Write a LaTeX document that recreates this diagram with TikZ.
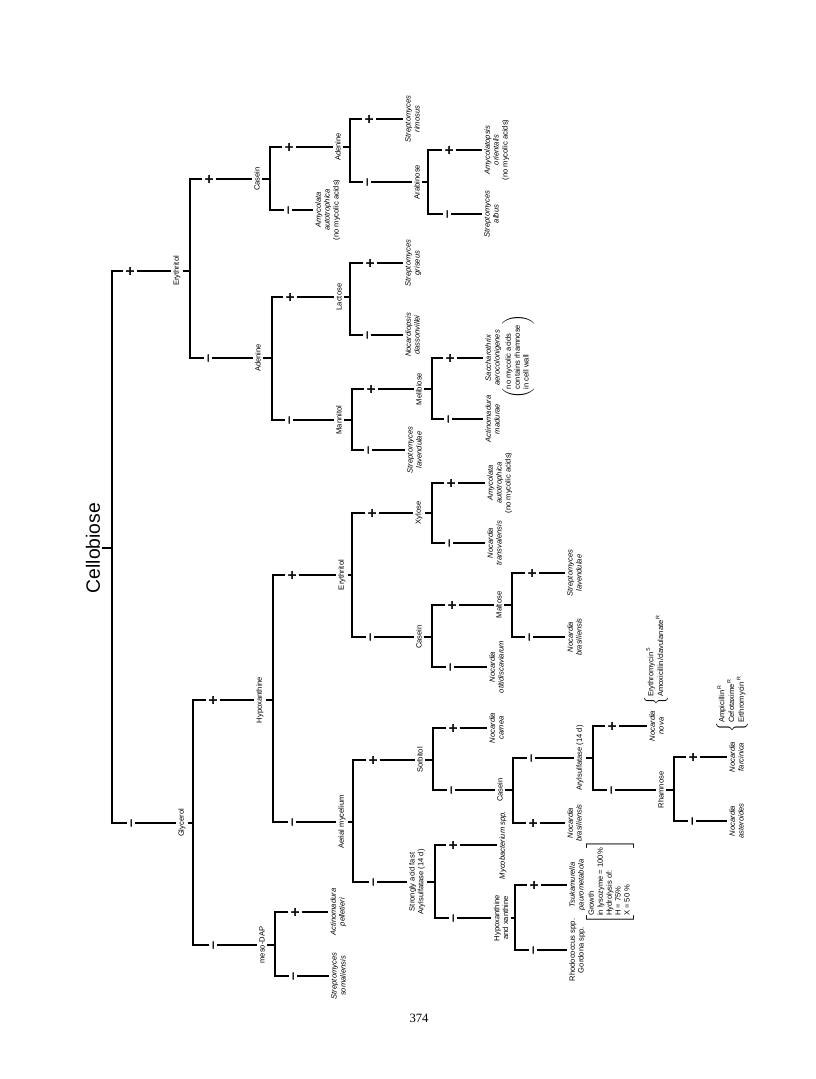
\documentclass[tikz,border=0pt]{standalone}
\usepackage{fontspec}
\setmainfont{Liberation Sans}
\newfontfamily\numfont{Liberation Serif}
\newfontfamily\signfont[FakeBold=3]{Liberation Sans}
\usepackage{tikz}

\tikzset{
  tree/.style={line width=1.8pt},
  lbl/.style={rotate=90, inner sep=1.5pt, align=center, font=\fontsize{5.7}{6.7}\selectfont},
  leaf/.style={lbl, anchor=north, font=\fontsize{5.7}{6.7}\selectfont\itshape},
  sgnp/.style={rotate=90, inner sep=1pt, text height=7.4pt, text depth=0pt, font=\signfont\fontsize{11}{11}\selectfont},
  sgnm/.style={rotate=90, inner sep=0.3pt, text height=4.9pt, text depth=0pt, font=\signfont\fontsize{9}{9}\selectfont},
}

\begin{document}
\begin{tikzpicture}[x=0.75pt, y=-0.75pt]
\useasboundingbox (0,0) rectangle (816,1079);

% test names at the forks
\node[lbl, font=\fontsize{14.5}{16}\selectfont] (cello) at (93,548) {Cellobiose};
\node[lbl] (ery1) at (177,271) {Erythritol};
\node[lbl] (cas1) at (257,179) {Casein};
\node[lbl] (ade1) at (338,147) {Adenine};
\node[lbl] (arab) at (417,182) {Arabinose};
\node[lbl] (ade2) at (258,358) {Adenine};
\node[lbl] (lac) at (339,297) {Lactose};
\node[lbl] (mann) at (339,420) {Mannitol};
\node[lbl] (meli) at (419,389) {Melibiose};
\node[lbl] (gly) at (182,823) {Glycerol};
\node[lbl] (hypo) at (260,700) {Hypoxanthine};
\node[lbl] (ery3) at (342,575) {Erythritol};
\node[lbl] (xyl) at (419,513) {Xylose};
\node[lbl] (cas3) at (419,637) {Casein};
\node[lbl] (malt) at (499,605) {Maltose};
\node[lbl] (aer) at (342,822) {Aerial mycelium};
\node[lbl] (sorb) at (420,760) {Sorbitol};
\node[lbl] (cas4) at (500,790) {Casein};
\node[lbl] (aryl) at (580,758) {Arylsulfatase (14 d)};
\node[lbl] (rham) at (661,790) {Rhamnose};
\node[lbl] (saf) at (417,882) {Strongly acid fast\\Arylsulfatase (14 d)};
\node[lbl] (hxx) at (501,918) {Hypoxanthine\\and xanthine};
\node[lbl] (dap) at (262,945) {meso-DAP};

% organisms
\node[leaf] (amyA) at (313,210) {Amycolata\\autotrophica\\{\upshape(no mycolic acids)}};
\node[leaf] (srim) at (403,119) {Streptomyces\\rimosus};
\node[leaf] (aori) at (482,150) {Amycolatopsis\\orientalis\\{\upshape(no mycolic acids)}};
\node[leaf] (salb) at (482,214) {Streptomyces\\albus};
\node[leaf] (sgri) at (403,263) {Streptomyces\\griseus};
\node[leaf] (ndas) at (403,335) {Nocardiopsis\\dassonvillei};
\node[leaf] (sacc) at (483,358) {Saccharothrix\\aerocolonigenes};
\node[leaf] (amad) at (483,419) {Actinomadura\\madurae};
\node[leaf] (slav1) at (405,450) {Streptomyces\\lavendulae};
\node[leaf] (amyB) at (485,483) {Amycolata\\autotrophica\\{\upshape(no mycolic acids)}};
\node[leaf] (ntra) at (485,543) {Nocardia\\transvalensis};
\node[leaf] (slav2) at (565,573) {Streptomyces\\lavendulae};
\node[leaf] (nbra1) at (565,637) {Nocardia\\brasiliensis};
\node[leaf] (noti) at (487,667) {Nocardia\\otitidiscaviarum};
\node[leaf] (ncar) at (487,728) {Nocardia\\carnea};
\node[leaf] (nnov) at (647,726) {Nocardia\\nova};
\node[leaf] (nfar) at (727,757) {Nocardia\\farcinica};
\node[leaf] (nast) at (727,821) {Nocardia\\asteroides};
\node[leaf] (nbra2) at (565,823) {Nocardia\\brasiliensis};
\node[leaf] (myco) at (497,845) {Mycobacterium spp.};
\node[leaf] (tsuk) at (567,885) {Tsukamurella\\paurometabola};
\node[leaf, font=\fontsize{5.7}{6.7}\selectfont] (rhod) at (567,950) {Rhodococcus spp.\\Gordona spp.};
\node[leaf] (apel) at (328,912) {Actinomadura\\pelletieri};
\node[leaf] (ssom) at (329,976) {Streptomyces\\somaliensis};

% notes
\node[lbl] (saccnote) at (518,357) {$\left(\begin{tabular}{@{}l@{}}no mycolic acids\\contains rhamnose\\in cell wall\end{tabular}\right)$};
\node[lbl] (tsuknote) at (610,882) {$\left[\begin{tabular}{@{}l@{}}Growth\\in lysozyme = 100\%\\Hydrolysis of:\\H = 75\%\\X = 50 \%\end{tabular}\right]$};
\node[lbl, anchor=west] (nnovnote) at (656,708) {$\left\{\begin{tabular}{@{}l@{}}Erythromycin\,\textsuperscript{S}\\Amoxicillin/clavulanate\,\textsuperscript{R}\end{tabular}\right.$};
\node[lbl, anchor=west] (nfarnote) at (732,735) {$\left\{\begin{tabular}{@{}l@{}}Ampicillin\,\textsuperscript{R}\\Cefotaxime\,\textsuperscript{R}\\Erthromycin\,\textsuperscript{R}\end{tabular}\right.$};

% signs
\node[sgnp] (cellop) at (130,271) {+};  \node[sgnm] (cellom) at (131,823) {–};
\node[sgnp] (ery1p) at (209,179) {+};   \node[sgnm] (ery1m) at (208,358) {–};
\node[sgnp] (cas1p) at (289,147) {+};   \node[sgnm] (cas1m) at (288,210) {–};
\node[sgnp] (ade1p) at (369,119) {+};   \node[sgnm] (ade1m) at (367,182) {–};
\node[sgnp] (arabp) at (449,150) {+};   \node[sgnm] (arabm) at (447,214) {–};
\node[sgnp] (ade2p) at (290,297) {+};   \node[sgnm] (ade2m) at (289,420) {–};
\node[sgnp] (lacp) at (370,263) {+};    \node[sgnm] (lacm) at (367,335) {–};
\node[sgnp] (mannp) at (371,389) {+};   \node[sgnm] (mannm) at (368,450) {–};
\node[sgnp] (melip) at (450,358) {+};   \node[sgnm] (melim) at (448,419) {–};
\node[sgnp] (glyp) at (213,700) {+};    \node[sgnm] (glym) at (213,945) {–};
\node[sgnp] (hypop) at (292,575) {+};   \node[sgnm] (hypom) at (292,822) {–};
\node[sgnp] (ery3p) at (372,513) {+};   \node[sgnm] (ery3m) at (370,637) {–};
\node[sgnp] (xylp) at (451,483) {+};    \node[sgnm] (xylm) at (449,543) {–};
\node[sgnp] (cas3p) at (452,605) {+};   \node[sgnm] (cas3m) at (450,667) {–};
\node[sgnp] (maltp) at (532,573) {+};   \node[sgnm] (maltm) at (529,637) {–};
\node[sgnp] (aerp) at (373,760) {+};    \node[sgnm] (aerm) at (373,882) {–};
\node[sgnp] (sorbp) at (453,728) {+};   \node[sgnm] (sorbm) at (451,790) {–};
\node[sgnm] (cas4m) at (531,758) {–};   \node[sgnp] (cas4p) at (533,823) {+};
\node[sgnp] (arylp) at (612,726) {+};   \node[sgnm] (arylm) at (611,790) {–};
\node[sgnp] (rhamp) at (693,757) {+};   \node[sgnm] (rhamm) at (692,821) {–};
\node[sgnp] (safp) at (453,845) {+};    \node[sgnm] (safm) at (453,918) {–};
\node[sgnp] (hxxp) at (534,885) {+};    \node[sgnm] (hxxm) at (533,950) {–};
\node[sgnp] (dapp) at (295,912) {+};    \node[sgnm] (dapm) at (293,976) {–};

% bars
\coordinate (cellobar) at (112,548);  \coordinate (ery1bar) at (190,271);
\coordinate (cas1bar) at (270,179);   \coordinate (ade1bar) at (350,147);
\coordinate (arabbar) at (428,182);   \coordinate (ade2bar) at (272,358);
\coordinate (lacbar) at (350,297);    \coordinate (mannbar) at (352,420);
\coordinate (melibar) at (432,389);   \coordinate (glybar) at (193,823);
\coordinate (hypobar) at (273,700);   \coordinate (ery3bar) at (352,575);
\coordinate (xylbar) at (432,513);    \coordinate (cas3bar) at (432,637);
\coordinate (maltbar) at (512,605);   \coordinate (aerbar) at (353,822);
\coordinate (sorbbar) at (433,760);   \coordinate (cas4bar) at (513,790);
\coordinate (arylbar) at (593,758);   \coordinate (rhambar) at (674,790);
\coordinate (safbar) at (435,882);    \coordinate (hxxbar) at (515,918);
\coordinate (dapbar) at (275,945);

\draw[tree] (cello) -- (cellobar);
\draw[tree] (cellop) -- (cellop -| cellobar) -- (cellom -| cellobar) -- (cellom);
\draw[tree] (cellop) -- (ery1);  \draw[tree] (cellom) -- (gly);

\draw[tree] (ery1) -- (ery1bar);
\draw[tree] (ery1p) -- (ery1p -| ery1bar) -- (ery1m -| ery1bar) -- (ery1m);
\draw[tree] (ery1p) -- (cas1);  \draw[tree] (ery1m) -- (ade2);

\draw[tree] (cas1) -- (cas1bar);
\draw[tree] (cas1p) -- (cas1p -| cas1bar) -- (cas1m -| cas1bar) -- (cas1m);
\draw[tree] (cas1p) -- (ade1);  \draw[tree] (cas1m) -- (amyA);

\draw[tree] (ade1) -- (ade1bar);
\draw[tree] (ade1p) -- (ade1p -| ade1bar) -- (ade1m -| ade1bar) -- (ade1m);
\draw[tree] (ade1p) -- (srim);  \draw[tree] (ade1m) -- (arab);

\draw[tree] (arab) -- (arabbar);
\draw[tree] (arabp) -- (arabp -| arabbar) -- (arabm -| arabbar) -- (arabm);
\draw[tree] (arabp) -- (aori);  \draw[tree] (arabm) -- (salb);

\draw[tree] (ade2) -- (ade2bar);
\draw[tree] (ade2p) -- (ade2p -| ade2bar) -- (ade2m -| ade2bar) -- (ade2m);
\draw[tree] (ade2p) -- (lac);  \draw[tree] (ade2m) -- (mann);

\draw[tree] (lac) -- (lacbar);
\draw[tree] (lacp) -- (lacp -| lacbar) -- (lacm -| lacbar) -- (lacm);
\draw[tree] (lacp) -- (sgri);  \draw[tree] (lacm) -- (ndas);

\draw[tree] (mann) -- (mannbar);
\draw[tree] (mannp) -- (mannp -| mannbar) -- (mannm -| mannbar) -- (mannm);
\draw[tree] (mannp) -- (meli);  \draw[tree] (mannm) -- (slav1);

\draw[tree] (meli) -- (melibar);
\draw[tree] (melip) -- (melip -| melibar) -- (melim -| melibar) -- (melim);
\draw[tree] (melip) -- (sacc);  \draw[tree] (melim) -- (amad);

\draw[tree] (gly) -- (glybar);
\draw[tree] (glyp) -- (glyp -| glybar) -- (glym -| glybar) -- (glym);
\draw[tree] (glyp) -- (hypo);  \draw[tree] (glym) -- (dap);

\draw[tree] (hypo) -- (hypobar);
\draw[tree] (hypop) -- (hypop -| hypobar) -- (hypom -| hypobar) -- (hypom);
\draw[tree] (hypop) -- (ery3);  \draw[tree] (hypom) -- (aer);

\draw[tree] (ery3) -- (ery3bar);
\draw[tree] (ery3p) -- (ery3p -| ery3bar) -- (ery3m -| ery3bar) -- (ery3m);
\draw[tree] (ery3p) -- (xyl);  \draw[tree] (ery3m) -- (cas3);

\draw[tree] (xyl) -- (xylbar);
\draw[tree] (xylp) -- (xylp -| xylbar) -- (xylm -| xylbar) -- (xylm);
\draw[tree] (xylp) -- (amyB);  \draw[tree] (xylm) -- (ntra);

\draw[tree] (cas3) -- (cas3bar);
\draw[tree] (cas3p) -- (cas3p -| cas3bar) -- (cas3m -| cas3bar) -- (cas3m);
\draw[tree] (cas3p) -- (malt);  \draw[tree] (cas3m) -- (noti);

\draw[tree] (malt) -- (maltbar);
\draw[tree] (maltp) -- (maltp -| maltbar) -- (maltm -| maltbar) -- (maltm);
\draw[tree] (maltp) -- (slav2);  \draw[tree] (maltm) -- (nbra1);

\draw[tree] (aer) -- (aerbar);
\draw[tree] (aerp) -- (aerp -| aerbar) -- (aerm -| aerbar) -- (aerm);
\draw[tree] (aerp) -- (sorb);  \draw[tree] (aerm) -- (saf);

\draw[tree] (sorb) -- (sorbbar);
\draw[tree] (sorbp) -- (sorbp -| sorbbar) -- (sorbm -| sorbbar) -- (sorbm);
\draw[tree] (sorbp) -- (ncar);  \draw[tree] (sorbm) -- (cas4);

\draw[tree] (cas4) -- (cas4bar);
\draw[tree] (cas4m) -- (cas4m -| cas4bar) -- (cas4p -| cas4bar) -- (cas4p);
\draw[tree] (cas4m) -- (aryl);  \draw[tree] (cas4p) -- (nbra2);

\draw[tree] (aryl) -- (arylbar);
\draw[tree] (arylp) -- (arylp -| arylbar) -- (arylm -| arylbar) -- (arylm);
\draw[tree] (arylp) -- (nnov);  \draw[tree] (arylm) -- (rham);

\draw[tree] (rham) -- (rhambar);
\draw[tree] (rhamp) -- (rhamp -| rhambar) -- (rhamm -| rhambar) -- (rhamm);
\draw[tree] (rhamp) -- (nfar);  \draw[tree] (rhamm) -- (nast);

\draw[tree] (saf) -- (safbar);
\draw[tree] (safp) -- (safp -| safbar) -- (safm -| safbar) -- (safm);
\draw[tree] (safp) -- (myco);  \draw[tree] (safm) -- (hxx);

\draw[tree] (hxx) -- (hxxbar);
\draw[tree] (hxxp) -- (hxxp -| hxxbar) -- (hxxm -| hxxbar) -- (hxxm);
\draw[tree] (hxxp) -- (tsuk);  \draw[tree] (hxxm) -- (rhod);

\draw[tree] (dap) -- (dapbar);
\draw[tree] (dapp) -- (dapp -| dapbar) -- (dapm -| dapbar) -- (dapm);
\draw[tree] (dapp) -- (apel);  \draw[tree] (dapm) -- (ssom);

\node[font=\numfont\fontsize{9.5}{11}\selectfont] (pgno) at (419,1018) {374};
\end{tikzpicture}
\end{document}
